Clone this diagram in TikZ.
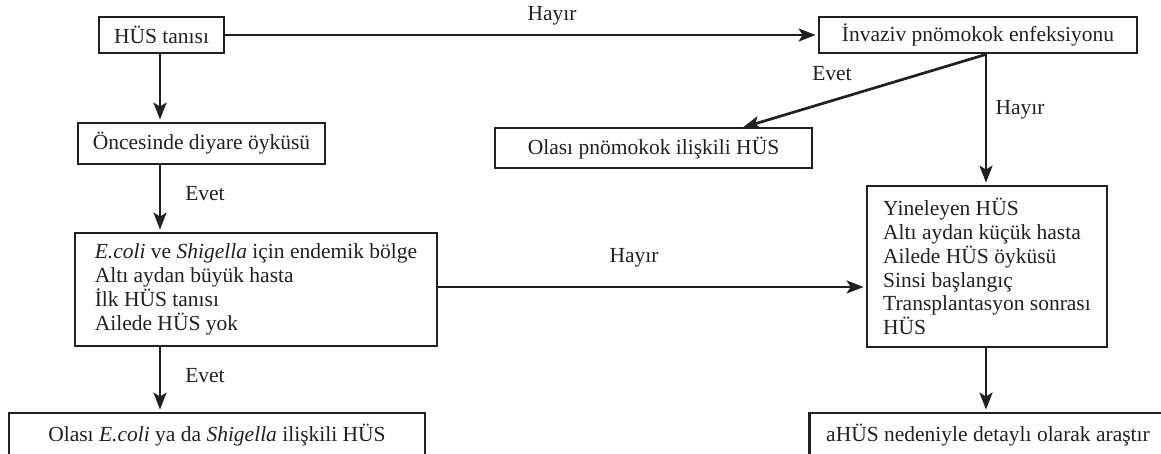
\documentclass[tikz,border=0pt]{standalone}
\usepackage{fontspec}
\setmainfont{Liberation Serif}
\usetikzlibrary{arrows.meta}
\definecolor{ink}{HTML}{231F20}
\begin{document}
\begin{tikzpicture}[x=1pt,y=-1pt,
  font=\fontsize{21.5}{23.8}\selectfont,
  box/.style={draw=ink,line width=2.8pt,inner sep=0pt,text=ink},
  conn/.style={draw=ink,line width=2.7pt,-{Stealth[length=17pt,width=13pt,inset=4pt]},shorten >=2pt},
  lbl/.style={inner sep=0pt,text=ink}]
\useasboundingbox (0,0) rectangle (1161,453);
\clip (0,0) rectangle (1161,453);
% boxes
\node[box,minimum width=125pt,minimum height=36pt] (hus) at (161.5,35) {HÜS tanısı};
\node[box,minimum width=247pt,minimum height=41pt] (onc) at (201.5,143.5) {Öncesinde diyare öyküsü};
\node[box,minimum width=362pt,minimum height=113pt,align=left] (lbig) at (256,289.5)
  {\textit{E.coli} ve \textit{Shigella} için endemik bölge\\Altı aydan büyük hasta\\İlk HÜS tanısı\\Ailede HÜS yok};
\node[box,minimum width=416pt,minimum height=44pt] (ecol) at (217,435)
  {Olası \textit{E.coli} ya da \textit{Shigella} ilişkili HÜS};
\node[box,minimum width=318pt,minimum height=36pt] (inv) at (978,35) {İnvaziv pnömokok enfeksiyonu};
\node[box,minimum width=317pt,minimum height=40pt] (pn) at (653.5,148) {Olası pnömokok ilişkili HÜS};
\node[box,minimum width=240pt,minimum height=161pt,align=left] (yin) at (987,266.5)
  {Yineleyen HÜS\\Altı aydan küçük hasta\\Ailede HÜS öyküsü\\Sinsi başlangıç\\Transplantasyon sonrası\\HÜS};
\node[box,minimum width=357pt,minimum height=44pt] (ahus) at (988,435)
  {aHÜS nedeniyle detaylı olarak araştır};
% helper coordinates
\coordinate (lx) at (160,0);
\coordinate (rx) at (986,0);
\coordinate (my) at (0,287);
\coordinate (ptip) at (741,128);
% connectors
\draw[conn] (hus.south -| lx) -- (onc.north -| lx);
\draw[conn] (onc.south -| lx) -- (lbig.north -| lx);
\draw[conn] (lbig.south -| lx) -- (ecol.north -| lx);
\draw[conn] (hus.east) -- (inv.west);
\draw[conn] (lbig.east |- my) -- (yin.west |- my);
\draw[conn] (inv.south -| rx) -- (yin.north -| rx);
\draw[conn] (yin.south -| rx) -- (ahus.north -| rx);
\draw[conn] (inv.south -| rx) -- (ptip);
% labels
\node[lbl] (l1) at (552,16) {Hayır};
\node[lbl] (l2) at (832,74) {Evet};
\node[lbl] (l3) at (1020,110) {Hayır};
\node[lbl] (l4) at (205,194) {Evet};
\node[lbl] (l5) at (634,258) {Hayır};
\node[lbl] (l6) at (205,376) {Evet};
\end{tikzpicture}
\end{document}
